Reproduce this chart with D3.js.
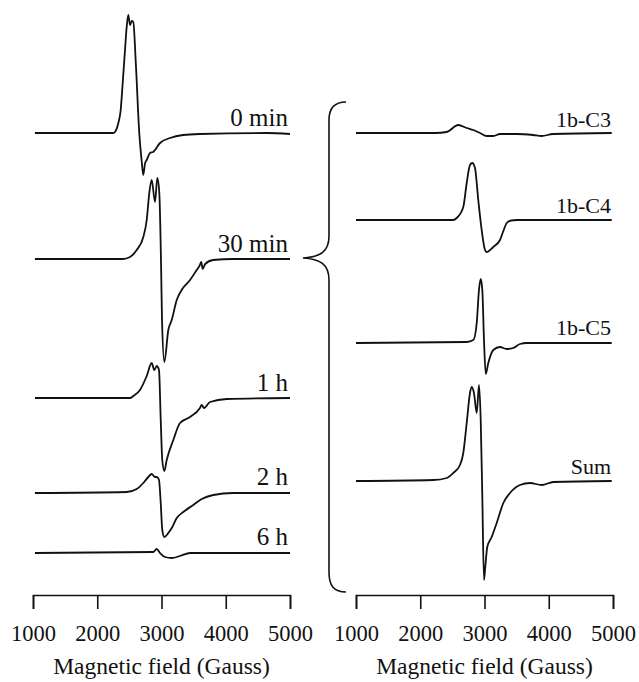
<!DOCTYPE html>
<html>
<head>
<meta charset="utf-8">
<script src="https://cdn.jsdelivr.net/npm/d3@7"></script>
<style>
  body { margin: 0; background: #fff; }
  svg { display: block; }
</style>
</head>
<body>
<svg id="epr" width="639" height="682"></svg>
<script>
// field ticks (Gauss)
const fieldTicks = [1000, 2000, 3000, 4000, 5000];

// left panel: time series, [field (G), signal (a.u.)]
const leftLabels = ['0 min', '30 min', '1 h', '2 h', '6 h'];
const min0 = [[1030,0],[2250,0],[2276,1],[2328,10],[2365,23],[2396,50],[2432,83],[2458,106],[2483,118],[2510,108],[2536,112],[2561,111],[2600,70],[2654,0],[2690,-27],[2716,-42],[2745,-30],[2770,-27],[2821,-20],[2868,-19],[2977,-10],[3132,-5],[3335,-2],[3600,-1],[4640,0],[5000,-1]];
const min30 = [[1030,0],[2400,0],[2510,2],[2614,9],[2717,22],[2770,39],[2810,66],[2847,79],[2899,57],[2935,81],[2966,66],[2992,-1],[3008,-61],[3044,-103],[3106,-71],[3159,-61],[3237,-41],[3314,-31],[3444,-21],[3548,-11],[3590,-7],[3620,-3],[3640,-10],[3680,-5],[3802,-1],[4113,0],[5000,0]];
const h1 = [[1030,0],[2510,0],[2561,2],[2665,8],[2770,22],[2847,35],[2888,28],[2925,32],[2961,28],[2988,-22],[3012,-62],[3044,-73],[3081,-62],[3184,-42],[3288,-25],[3444,-19],[3599,-10],[3626,-7],[3661,-10],[3755,-4],[4015,-1],[5000,0]];
const h2 = [[1030,0],[2458,1],[2614,4],[2717,10],[2795,16],[2847,19],[2899,16],[2925,16],[2961,13],[2988,-10],[3012,-37],[3044,-44],[3106,-40],[3159,-35],[3237,-25],[3339,-19],[3495,-12],[3626,-6],[3806,-2],[4113,0],[5000,0]];
const h6 = [[1030,0],[2872,1],[2925,4],[2977,0],[3054,-4],[3159,-5],[3288,-3],[3444,0],[5000,0]];

// right panel: simulated components and their sum
const rightLabels = ['1b-C3', '1b-C4', '1b-C5', 'Sum'];
const c3 = [[1000,0],[2230,0],[2412,1],[2592,8],[2723,5],[2826,3],[2930,0],[3034,-3],[3137,-3],[3241,-1],[3501,-1],[3755,-2],[3890,-3],[4066,-1],[4980,0]];
const c4 = [[1000,0],[2514,0],[2567,2],[2670,13],[2723,37],[2774,55],[2810,57],[2852,52],[2903,20],[2956,-10],[3008,-30],[3034,-32],[3137,-27],[3241,-20],[3288,-12],[3346,-3],[3415,-0.5],[3501,0],[4980,0]];
const c5 = [[1000,0],[2723,1],[2826,3],[2879,20],[2914,53],[2941,64],[2966,53],[2992,3],[3019,-31],[3059,-20],[3137,-7],[3241,-4],[3346,-6],[3448,-5],[3552,-1],[3657,0],[4980,0]];
const sum = [[1000,0],[2203,1],[2412,3],[2514,8],[2619,16],[2670,28],[2723,58],[2774,88],[2800,94],[2836,88],[2879,68],[2914,96],[2941,61],[2966,-16],[2992,-99],[3012,-86],[3043,-66],[3112,-56],[3190,-42],[3293,-22],[3397,-12],[3552,-4],[3708,-2],[3890,-4],[4071,-1],[4980,0]];

// layout
const axisY = 595;
const serif = '"Liberation Serif", "DejaVu Serif", "Times New Roman", serif';
const panels = [
  { x0: 33, x1: 290, series: [min0, min30, h1, h2, h6], labels: leftLabels, base: [133, 259, 398, 493, 553], labelSize: 25, labelDy: [-7, -7, -7, -8, -8] },
  { x0: 356, x1: 613, series: [c3, c4, c5, sum], labels: rightLabels, base: [133, 220, 343, 481], labelSize: 22, labelDy: [-6, -7, -8, -7] }
];

const svg = d3.select('#epr').attr('font-family', serif);
svg.append('rect').attr('width', 639).attr('height', 682).attr('fill', '#fff');

// signal units -> pixels (upwards)
const y = d3.scaleLinear().domain([0, 100]).range([0, -100]);

panels.forEach(p => {
  const x = d3.scaleLinear().domain([1000, 5000]).range([p.x0, p.x1]);
  const line = d3.line()
    .x(d => x(d[0]))
    .y(d => y(d[1]))
    .curve(d3.curveMonotoneX);

  p.series.forEach((s, i) => {
    const g = svg.append('g').attr('transform', `translate(0,${p.base[i]})`);
    g.append('path')
      .datum(s)
      .attr('d', line)
      .attr('fill', 'none')
      .attr('stroke', '#111')
      .attr('stroke-width', 1.8)
      .attr('stroke-linejoin', 'round');
    g.append('text')
      .attr('x', p.x1 - 2)
      .attr('y', p.labelDy[i])
      .attr('text-anchor', 'end')
      .attr('font-family', serif)
      .attr('font-size', p.labelSize)
      .attr('fill', '#111')
      .text(p.labels[i]);
  });

  const ax = svg.append('g')
    .attr('transform', `translate(0,${axisY})`)
    .call(d3.axisBottom(x).tickValues(fieldTicks).tickFormat(d3.format('d')).tickSize(14).tickPadding(16));
  ax.attr('font-family', serif);
  ax.select('.domain').attr('stroke', '#111').attr('stroke-width', 1.6);
  ax.selectAll('.tick line').attr('stroke', '#111').attr('stroke-width', 1.6);
  ax.selectAll('.tick text')
    .attr('font-family', serif)
    .attr('font-size', 22.5)
    .attr('fill', '#111');

  svg.append('text')
    .attr('x', (p.x0 + p.x1) / 2)
    .attr('y', 674)
    .attr('text-anchor', 'middle')
    .attr('font-family', serif)
    .attr('font-size', 23.5)
    .attr('fill', '#111')
    .text('Magnetic field (Gauss)');
});

// curly brace linking the 30 min spectrum to the fitted components
svg.append('path')
  .attr('d', 'M346,102 C334,102 329,108 329,120 L329,236 C329,252 320,257 303,258 C320,259 329,264 329,280 L329,572 C329,586 334,592 346,592')
  .attr('fill', 'none')
  .attr('stroke', '#111')
  .attr('stroke-width', 1.6);
</script>
</body>
</html>
